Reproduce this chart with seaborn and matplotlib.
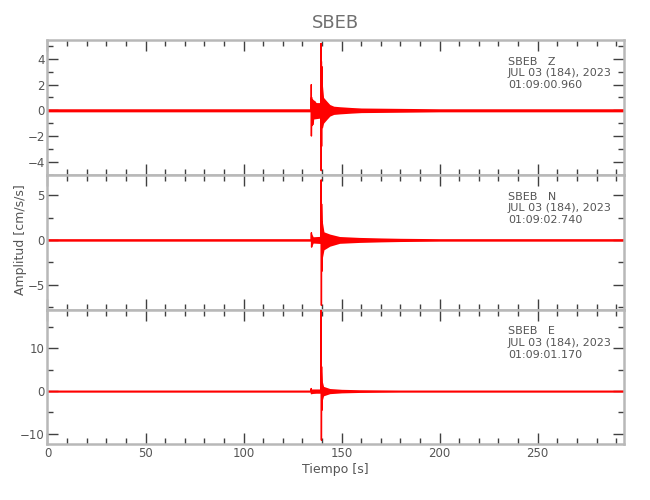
import matplotlib
matplotlib.use("Agg")
import matplotlib.pyplot as plt
import seaborn as sns
from matplotlib.ticker import MultipleLocator

# ---- data ----
station = "SBEB"
components = ["Z", "N", "E"]
date_label = "JUL 03 (184), 2023"
start_times = ["01:09:00.960", "01:09:02.740", "01:09:01.170"]

# noise / coda band: time [s], upper and lower envelope [cm/s/s]
z_env_t = [0, 134.4, 134.6, 137.0, 139.3, 139.6, 140.2, 140.8, 142.5, 144.0, 146.0, 149.0, 155.0, 160.0, 180.0, 200.0, 294.0]
z_env_hi = [0.12, 0.12, 0.7, 0.6, 0.6, 3.6, 2.0, 1.0, 0.7, 0.45, 0.32, 0.28, 0.22, 0.18, 0.15, 0.12, 0.12]
z_env_lo = [-0.12, -0.12, -0.7, -0.65, -0.6, -1.3, -1.4, -1.0, -0.7, -0.45, -0.32, -0.28, -0.22, -0.18, -0.15, -0.12, -0.12]

n_env_t = [0, 134.4, 134.6, 135.5, 139.3, 139.6, 140.2, 141.0, 144.0, 149.0, 159.0, 170.0, 180.0, 200.0, 294.0]
n_env_hi = [0.14, 0.14, 0.75, 0.35, 0.4, 4.6, 2.0, 0.9, 0.65, 0.38, 0.28, 0.22, 0.18, 0.14, 0.14]
n_env_lo = [-0.14, -0.14, -0.8, -0.35, -0.4, -3.5, -2.0, -1.1, -0.7, -0.38, -0.28, -0.22, -0.18, -0.14, -0.14]

e_env_t = [0, 134.0, 134.5, 139.3, 139.6, 140.2, 140.8, 144.0, 150.0, 159.0, 170.0, 180.0, 294.0]
e_env_hi = [0.25, 0.25, 0.5, 0.5, 5.5, 2.2, 1.1, 0.6, 0.42, 0.32, 0.28, 0.25, 0.25]
e_env_lo = [-0.25, -0.25, -0.5, -0.5, -4.5, -2.1, -1.1, -0.6, -0.42, -0.32, -0.28, -0.25, -0.25]

# large single swings (P onset and main S arrival)
z_spk_t = [134.5, 134.55, 134.6, 134.7, 134.8, 135.3, 135.5, 136.2, 139.4, 139.5, 139.6, 139.7, 139.8, 139.9, 140.0, 140.1, 140.2, 140.4]
z_spk_v = [0, 2.0, -2.0, 1.0, -1.2, 0.8, -1.1, 0.7, 0, 5.2, -4.7, 3.8, -2.8, 3.4, -1.3, 1.5, -1.0, 0]

n_spk_t = [134.5, 134.6, 134.7, 134.8, 139.5, 139.6, 139.7, 139.8, 139.9, 140.0, 140.2]
n_spk_v = [0, 0.8, -0.8, 0, 0, 6.7, -7.3, 4.0, -3.5, 2.0, 0]

e_spk_t = [134.4, 134.5, 134.6, 139.5, 139.6, 139.7, 139.8, 139.9, 140.1]
e_spk_v = [0, 0.6, -0.6, 0, 20.0, -11.5, 5.7, -4.5, 0]

env_t = [z_env_t, n_env_t, e_env_t]
env_hi = [z_env_hi, n_env_hi, e_env_hi]
env_lo = [z_env_lo, n_env_lo, e_env_lo]
spk_t = [z_spk_t, n_spk_t, e_spk_t]
spk_v = [z_spk_v, n_spk_v, e_spk_v]

y_limits = [(-5.02, 5.47), (-7.78, 7.26), (-12.5, 19.06)]
y_major = [2, 5, 10]
y_minor = [1, 2.5, 5]
x_limits = (0, 294)

# ---- plot ----
sns.set_style("ticks")
plt.rcParams["font.family"] = ["DejaVu Sans"]

axis_grey = "#b8b8b8"
text_grey = "#555555"

fig, axes = plt.subplots(3, 1, figsize=(6.5, 5), dpi=100, sharex=True)
fig.subplots_adjust(left=0.073, right=0.96, top=0.92, bottom=0.111, hspace=0)

for i, ax in enumerate(axes):
    ax.fill_between(env_t[i], env_lo[i], env_hi[i], color="red", lw=0, zorder=2)
    sns.lineplot(x=spk_t[i], y=spk_v[i], ax=ax, color="red", lw=1.0,
                 estimator=None, sort=False, zorder=3)

    ax.set_xlim(*x_limits)
    ax.set_ylim(*y_limits[i])
    ax.xaxis.set_major_locator(MultipleLocator(50))
    ax.xaxis.set_minor_locator(MultipleLocator(10))
    ax.yaxis.set_major_locator(MultipleLocator(y_major[i]))
    ax.yaxis.set_minor_locator(MultipleLocator(y_minor[i]))
    ax.tick_params(which="both", direction="in", top=True, right=True,
                   color="#404040", labelcolor=text_grey, labelsize=8.5, pad=2)
    ax.tick_params(which="major", length=8, width=1)
    ax.tick_params(which="minor", length=4.5, width=1)
    for sp in ax.spines.values():
        sp.set_color(axis_grey)
        sp.set_linewidth(1.8)
    if i < 2:
        ax.tick_params(labelbottom=False)

    tr = ax.get_xaxis_transform()
    ax.text(234.8, 0.839, f"{station}   {components[i]}", transform=tr,
            ha="left", va="center", fontsize=8, color=text_grey)
    ax.text(234.8, 0.752, date_label, transform=tr,
            ha="left", va="center", fontsize=8, color=text_grey)
    ax.text(234.8, 0.665, start_times[i], transform=tr,
            ha="left", va="center", fontsize=8, color=text_grey)

axes[0].set_title(station, fontsize=13, color="#707070", pad=9)
axes[2].set_xlabel("Tiempo [s]", fontsize=9, color=text_grey, labelpad=2)
fig.text(0.031, 0.52, "Amplitud [cm/s/s]", rotation=90, ha="center", va="center",
         fontsize=9, color=text_grey)

fig.savefig("out.png", dpi=100)
